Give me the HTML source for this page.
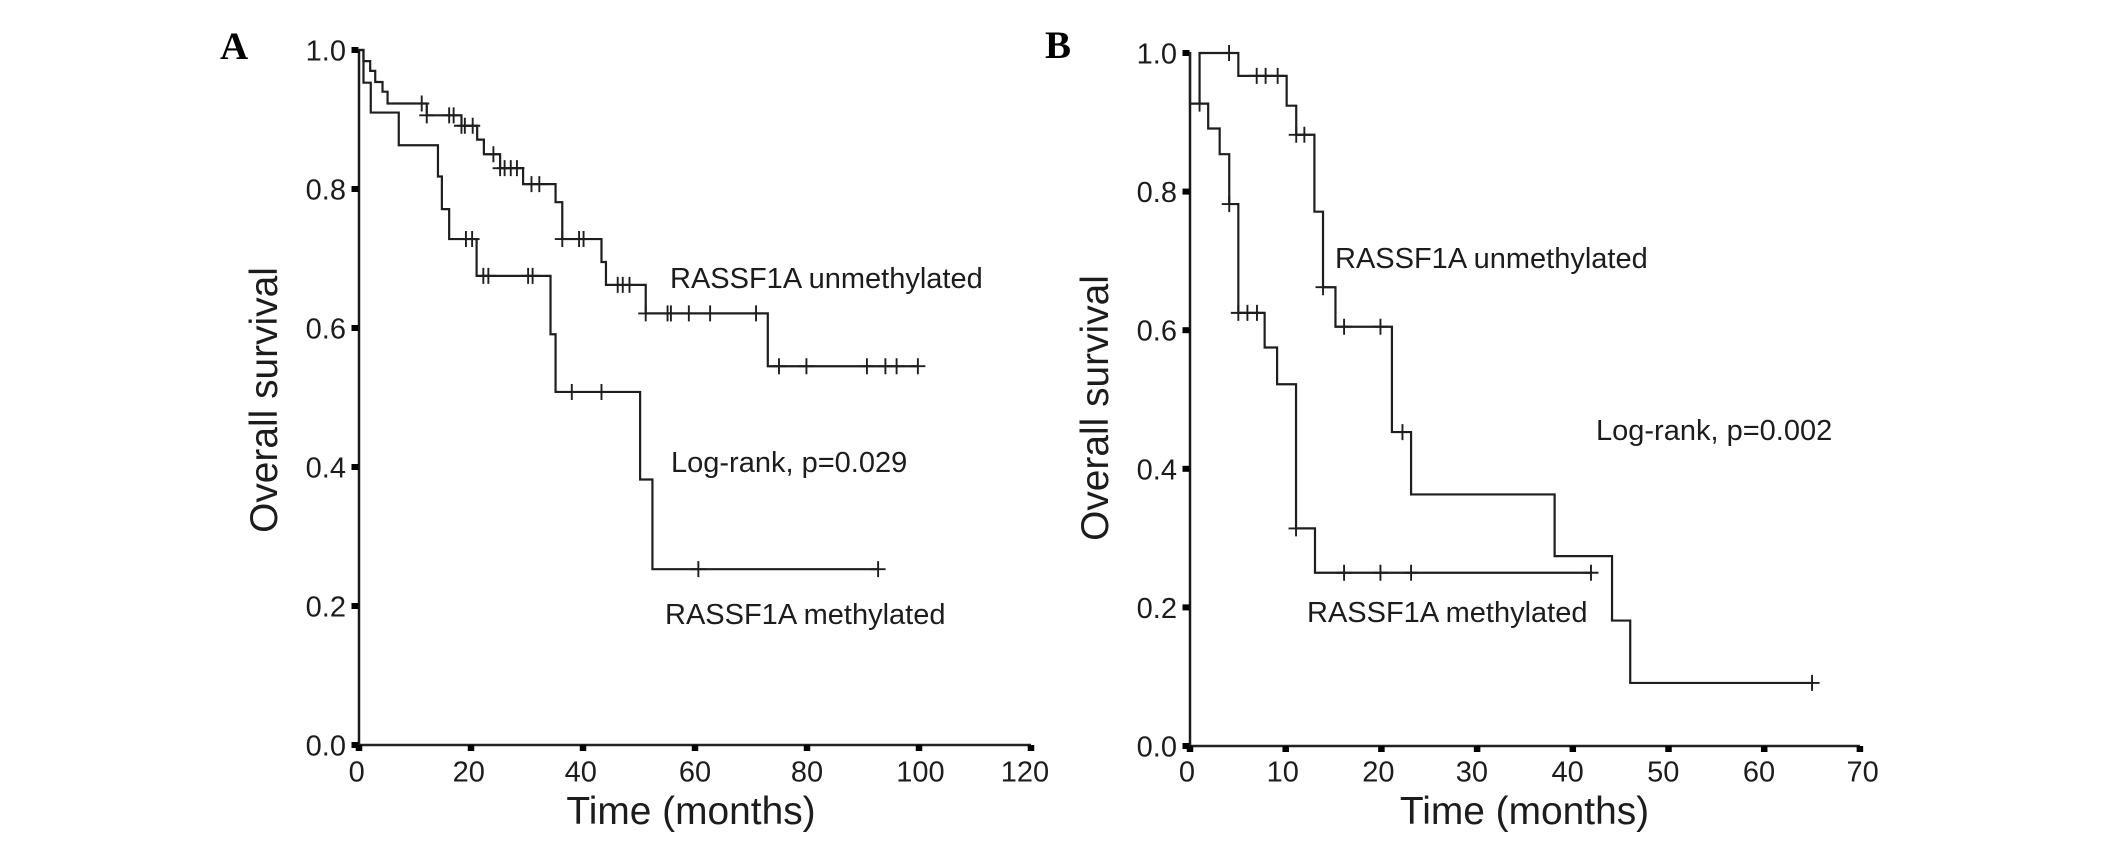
<!DOCTYPE html>
<html lang="en">
<head>
<meta charset="utf-8">
<title>Overall survival by RASSF1A methylation status</title>
<style>
  html, body { margin: 0; padding: 0; background: #fff; }
  svg { display: block; }
  text { font-family: "Liberation Sans", sans-serif; fill: #1c1c1c; }
  .panel-letter { font-family: "Liberation Serif", serif; font-weight: bold; font-size: 39px; fill: #000; }
  .tick-label { font-size: 29px; }
  .axis-title { font-size: 38.9px; }
  .annotation { font-size: 29px; }
</style>
</head>
<body>
<svg id="fig" width="2126" height="844" viewBox="0 0 2126 844" xmlns="http://www.w3.org/2000/svg">
  <rect x="0" y="0" width="2126" height="844" fill="#fff"/>

  <text class="panel-letter" x="220" y="59">A</text>
  <text class="panel-letter" x="1045" y="58">B</text>

  <text class="axis-title" x="691" y="824" text-anchor="middle">Time (months)</text>
  <text class="axis-title" transform="translate(277 400) rotate(-90)" text-anchor="middle">Overall survival</text>
  <text class="axis-title" x="1524.5" y="824" text-anchor="middle">Time (months)</text>
  <text class="axis-title" transform="translate(1108 408) rotate(-90)" text-anchor="middle">Overall survival</text>

  <text class="annotation" x="670" y="288">RASSF1A unmethylated</text>
  <text class="annotation" x="671" y="472">Log-rank, p=0.029</text>
  <text class="annotation" x="665" y="624">RASSF1A methylated</text>
  <text class="annotation" x="1335" y="268">RASSF1A unmethylated</text>
  <text class="annotation" x="1596" y="440">Log-rank, p=0.002</text>
  <text class="annotation" x="1307" y="622">RASSF1A methylated</text>
</svg>

<script>
// Shared y ticks
var yTicks = [0, 0.2, 0.4, 0.6, 0.8, 1.0];
var yTickLabels = ["0.0", "0.2", "0.4", "0.6", "0.8", "1.0"];

// Panel A x ticks
var aXTicks = [0, 20, 40, 60, 80, 100, 120];
var aXTickLabels = ["0", "20", "40", "60", "80", "100", "120"];

// Panel A, RASSF1A unmethylated
var aUnmethTimes = [0, 0.8, 2.0, 2.9, 4.2, 5.1, 12.1, 18.3, 21.1, 22.3, 25.2, 29.3, 35.1, 36.3, 43.3, 44.1, 51.2, 73.0];
var aUnmethSurvival = [1.0, 0.984, 0.970, 0.954, 0.940, 0.923, 0.906, 0.891, 0.871, 0.850, 0.830, 0.807, 0.781, 0.728, 0.695, 0.662, 0.621, 0.545];
var aUnmethCensored = [11.2, 12.1, 16.1, 16.9, 18.3, 18.9, 20.3, 24.0, 25.2, 26.0, 27.1, 28.2, 30.8, 32.2, 36.3, 39.3, 40.1, 46.2, 47.1, 48.3, 51.2, 55.1, 55.7, 58.9, 62.7, 70.9, 75.0, 79.9, 90.7, 94.0, 96.0, 99.8];

// Panel A, RASSF1A methylated
var aMethTimes = [0, 0.8, 2.1, 7.1, 14.1, 14.8, 16.1, 21.0, 34.2, 35.1, 50.2, 52.4];
var aMethSurvival = [1.0, 0.953, 0.910, 0.863, 0.818, 0.771, 0.728, 0.675, 0.591, 0.508, 0.382, 0.253];
var aMethCensored = [19.1, 20.2, 22.2, 23.1, 30.2, 31.0, 38.0, 43.3, 60.6, 92.7];

// Panel B x ticks
var bXTicks = [0, 10, 20, 30, 40, 50, 60, 70];
var bXTickLabels = ["0", "10", "20", "30", "40", "50", "60", "70"];

// Panel B, RASSF1A unmethylated
var bUnmethTimes = [1.0, 1.0, 5.05, 10.1, 11.1, 13.0, 13.9, 15.2, 21.1, 23.1, 38.1, 44.1, 46.0];
var bUnmethSurvival = [0.926, 1.0, 0.967, 0.924, 0.882, 0.771, 0.662, 0.605, 0.453, 0.363, 0.274, 0.181, 0.091];
var bUnmethCensored = [4.08, 6.97, 7.9, 9.16, 11.1, 11.95, 13.9, 16.1, 19.9, 22.2, 65.0];

// Panel B, RASSF1A methylated
var bMethTimes = [0, 0, 1.9, 3.1, 4.1, 5.05, 7.8, 9.1, 11.08, 13.06];
var bMethSurvival = [1.0, 0.927, 0.891, 0.854, 0.782, 0.625, 0.575, 0.522, 0.314, 0.250];
var bMethCensored = [1.0, 4.1, 5.05, 6.0, 7.0, 11.08, 16.1, 19.9, 23.1, 41.9];

var SVGNS = "http://www.w3.org/2000/svg";
var fig = document.getElementById("fig");

function make(tag, attrs) {
  var el = document.createElementNS(SVGNS, tag);
  for (var k in attrs) { el.setAttribute(k, attrs[k]); }
  return el;
}

// labelShift returns a small hand-alignment offset for a tick label, by tick index.
function drawAxes(prefix, xScale, yScale, xTicks, xLabels, labelShift) {
  var g = make("g", {});
  
  
  fig.appendChild(g);

  var xMax = xTicks[xTicks.length - 1];
  var yAxis = make("line", { x1: xScale(0), x2: xScale(0), y1: yScale(1) - 1, y2: yScale(0) + 1, stroke: "#1a1a1a", "stroke-width": 2.5 });
  
  
  g.appendChild(yAxis);

  var xAxis = make("line", { x1: xScale(0) - 1, x2: xScale(xMax), y1: yScale(0), y2: yScale(0), stroke: "#222", "stroke-width": 2.6 });
  
  
  g.appendChild(xAxis);

  yTicks.forEach(function (v, i) {
    var y = yScale(v);
    var tick = make("rect", { x: xScale(0) - 7.5, y: y - 3, width: 7, height: 6, fill: "#000" });
    
    
    g.appendChild(tick);
    var label = make("text", { x: xScale(0) - 13, y: y + 10.5, "text-anchor": "end", "class": "tick-label" });
    label.textContent = yTickLabels[i];
    
    
    g.appendChild(label);
  });

  xTicks.forEach(function (v, i) {
    var x = xScale(v);
    var tick = make("rect", { x: x - 3.25, y: yScale(0), width: 6.5, height: 6, fill: "#000" });
    
    
    g.appendChild(tick);
    var label = make("text", { x: x + labelShift(i), y: 781.5, "text-anchor": "middle", "class": "tick-label" });
    label.textContent = xLabels[i];
    
    
    g.appendChild(label);
  });
}

function survivalAt(times, surv, t) {
  var value = surv[0];
  for (var i = 0; i < times.length; i++) {
    if (times[i] <= t) { value = surv[i]; }
  }
  return value;
}

function drawCurve(name, xScale, yScale, times, surv, censored) {
  var g = make("g", {});
  
  
  fig.appendChild(g);

  var d = "M" + xScale(times[0]) + " " + yScale(surv[0]);
  for (var i = 1; i < times.length; i++) {
    d += " H" + xScale(times[i]) + " V" + yScale(surv[i]);
  }
  d += " H" + xScale(censored[censored.length - 1]);
  var path = make("path", { d: d, fill: "none", stroke: "#1e1e1e", "stroke-width": 2.2 });
  
  
  g.appendChild(path);

  censored.forEach(function (t) {
    var cx = xScale(t);
    var cy = yScale(survivalAt(times, surv, t));
    var mark = make("path", {
      d: "M" + (cx - 7.5) + " " + cy + " H" + (cx + 7.5) + " M" + cx + " " + (cy - 8) + " V" + (cy + 8),
      fill: "none", stroke: "#1e1e1e", "stroke-width": 1.9
    });
    
    
    g.appendChild(mark);
  });
}

function aX(m) { return 359 + 5.6 * m; }
function aY(v) { return 745 - 695 * v; }
function bX(m) { return 1190 + 9.57 * m; }
function bY(v) { return 746 - 693 * v; }

function aLabelShift(i) {
  if (i === 6) { return -6; }
  if (i === 5) { return 1.5; }
  return i >= 3 ? 0 : -2.3;
}
function bLabelShift(i) {
  if (i === 7) { return 2.7; }
  return i >= 3 ? -5.2 : -3;
}

drawAxes("panel-a", aX, aY, aXTicks, aXTickLabels, aLabelShift);
drawCurve("panel-a-unmethylated", aX, aY, aUnmethTimes, aUnmethSurvival, aUnmethCensored);
drawCurve("panel-a-methylated", aX, aY, aMethTimes, aMethSurvival, aMethCensored);

drawAxes("panel-b", bX, bY, bXTicks, bXTickLabels, bLabelShift);
drawCurve("panel-b-unmethylated", bX, bY, bUnmethTimes, bUnmethSurvival, bUnmethCensored);
drawCurve("panel-b-methylated", bX, bY, bMethTimes, bMethSurvival, bMethCensored);
</script>
</body>
</html>
